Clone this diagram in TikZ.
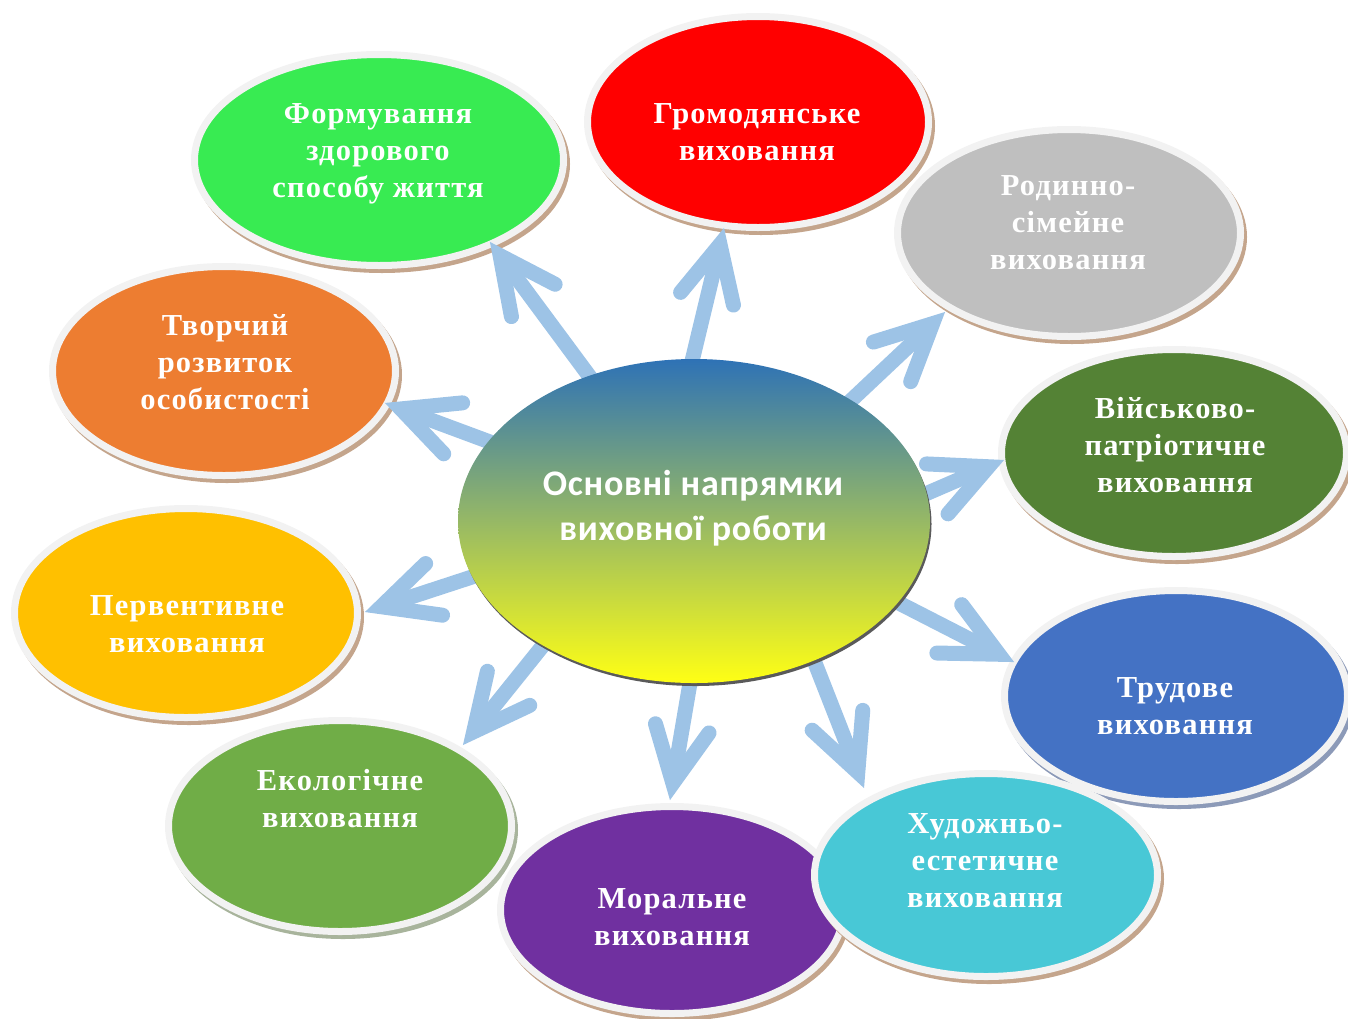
\documentclass[tikz,border=0pt]{standalone}
\usepackage{fontspec}
\setmainfont{Liberation Serif}[LetterSpace=4]
\newfontfamily\cfont{Carlito}[LetterSpace=2]
\usetikzlibrary{shapes.geometric,calc}
\definecolor{rimc}{HTML}{F2F2F2}
\definecolor{shc}{HTML}{C4A58C}
\definecolor{shblue}{HTML}{8C9AB8}
\definecolor{shgreen}{HTML}{A8B49C}
\definecolor{arrc}{HTML}{9DC3E6}
\definecolor{cgreen}{HTML}{38EB52}
\definecolor{cred}{HTML}{FF0000}
\definecolor{cgray}{HTML}{BFBFBF}
\definecolor{cdgreen}{HTML}{548235}
\definecolor{cblue}{HTML}{4472C4}
\definecolor{ccyan}{HTML}{48C8D6}
\definecolor{cpurple}{HTML}{7030A0}
\definecolor{clgreen}{HTML}{70AD47}
\definecolor{cgold}{HTML}{FFC000}
\definecolor{corange}{HTML}{ED7D31}
\definecolor{ctop}{HTML}{2E72B6}
\definecolor{cmid}{HTML}{A8B895}
\definecolor{cbot}{HTML}{FFFF14}
\definecolor{cshadow}{HTML}{5A5A5A}
\begin{document}
\begin{tikzpicture}[x=1pt,y=-1pt,
  oval/.style 2 args={ellipse, inner sep=0pt, minimum width=343pt, minimum height=209pt,
    fill=#1, draw=rimc, line width=7pt,
    preaction={fill=#2, draw=#2, line width=7pt, transform canvas={shift={(3pt,-4pt)}}}},
  lbl/.style={anchor=base, inner sep=0pt, text=white,
    font=\fontsize{30.5}{37}\selectfont\bfseries},
  shaft/.style={draw=arrc, line width=15pt, line cap=butt},
  head/.style={draw=arrc, line width=15pt, line cap=round, line join=miter},
]
\useasboundingbox (0,0) rectangle (1348,1018);

% outer ellipses
\node[oval={cgreen}{shc}, minimum width=369pt, minimum height=211pt] (n1) at (379,160) {};
\node[oval={corange}{shc}] (n10) at (224,371) {};
\node[oval={cgold}{shc}] (n9) at (186,613) {};
\node[oval={clgreen}{shgreen}, minimum height=211pt] (n8) at (340,826) {};
\node[oval={cpurple}{shc}, minimum height=207pt] (n7) at (672,910) {};
\node[oval={cred}{shc}, minimum width=341pt, minimum height=211pt] (n2) at (758,122) {};
\node[oval={cgray}{shc}, minimum height=207pt] (n3) at (1069,233) {};
\node[oval={cdgreen}{shc}, minimum width=345pt, minimum height=207pt] (n4) at (1174,453) {};
\node[oval={cblue}{shblue}, minimum height=211pt] (n5) at (1176,696) {};
\node[oval={ccyan}{shc}, minimum height=203pt] (n6) at (986,875) {};

% labels
\node[lbl] (l1) at (378,123) {\begin{tabular}[t]{@{}c@{}}Формування\\здорового\\способу життя\end{tabular}};
\node[lbl] (l2) at (757,123) {\begin{tabular}[t]{@{}c@{}}Громодянське\\виховання\end{tabular}};
\node[lbl] (l3) at (1068,195) {\begin{tabular}[t]{@{}c@{}}Родинно-\\сімейне\\виховання\end{tabular}};
\node[lbl] (l4) at (1175,418) {\begin{tabular}[t]{@{}c@{}}Військово-\\патріотичне\\виховання\end{tabular}};
\node[lbl] (l5) at (1175,697) {\begin{tabular}[t]{@{}c@{}}Трудове\\виховання\end{tabular}};
\node[lbl] (l6) at (985,833) {\begin{tabular}[t]{@{}c@{}}Художньо-\\естетичне\\виховання\end{tabular}};
\node[lbl] (l7) at (672,908) {\begin{tabular}[t]{@{}c@{}}Моральне\\виховання\end{tabular}};
\node[lbl] (l8) at (340,790) {\begin{tabular}[t]{@{}c@{}}Екологічне\\виховання\end{tabular}};
\node[lbl] (l9) at (187,615) {\begin{tabular}[t]{@{}c@{}}Первентивне\\виховання\end{tabular}};
\node[lbl] (l10) at (225,335) {\begin{tabular}[t]{@{}c@{}}Творчий\\розвиток\\особистості\end{tabular}};

% arrow end points
\coordinate (v1) at (490,242);  \coordinate (s1) at (587,373);
\coordinate (v2) at (385,403);  \coordinate (s2) at (490,442);
\coordinate (v3) at (724,228);  \coordinate (s3) at (693,357);
\coordinate (v4) at (945,312);  \coordinate (s4) at (843,408);
\coordinate (v5) at (1004,460); \coordinate (s5) at (930,492);
\coordinate (v6) at (1014,662); \coordinate (s6) at (893,600);
\coordinate (v7) at (864,788);  \coordinate (s7) at (815,663);
\coordinate (v8) at (670,800);  \coordinate (s8) at (690,683);
\coordinate (v9) at (463,745);  \coordinate (s9) at (545,643);
\coordinate (v10) at (365,612); \coordinate (s10) at (478,575);

\foreach \i in {1,...,10} {
  \coordinate (t\i) at ($(v\i)!17pt!(s\i)$);
  \coordinate (e\i) at ($(s\i)!-25pt!(v\i)$);
  \draw[shaft] (e\i) -- (t\i);
  \draw[head] ($(t\i)!62pt!26:(s\i)$) -- (t\i) -- ($(t\i)!62pt!-26:(s\i)$);
}

% central ellipse
\node[ellipse, inner sep=0pt, minimum width=472pt, minimum height=324pt,
  top color=ctop, middle color=cmid, bottom color=cbot,
  preaction={fill=cshadow, transform canvas={shift={(1.5pt,-3pt)}}}] (c) at (694,521) {};
\node[anchor=base, inner sep=0pt, text=white, font=\cfont\bfseries\fontsize{36}{45}\selectfont] (ct) at (693,495)
  {\begin{tabular}[t]{@{}c@{}}Основні напрямки\\виховної роботи\end{tabular}};
\end{tikzpicture}
\end{document}
